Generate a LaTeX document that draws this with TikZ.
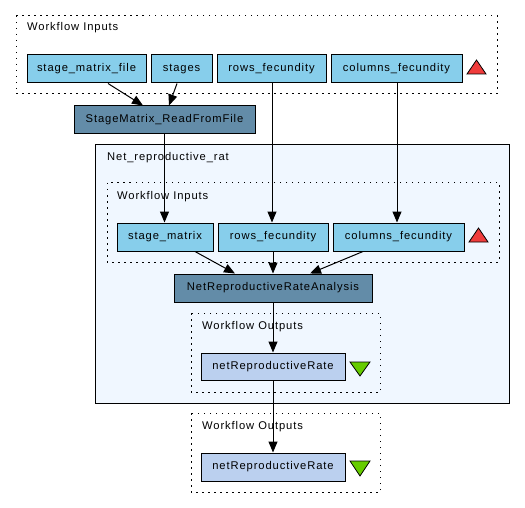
\documentclass[tikz,border=0pt]{standalone}
\usepackage{fontspec}
\setmainfont{Liberation Sans}[LetterSpace=8]
\usetikzlibrary{arrows.meta}
\definecolor{inpc}{RGB}{135,206,235}
\definecolor{procc}{RGB}{99,140,168}
\definecolor{outc}{RGB}{187,208,239}
\definecolor{netc}{RGB}{240,247,255}
\definecolor{redtri}{RGB}{240,60,60}
\definecolor{greentri}{RGB}{102,204,0}
\tikzset{
  box/.style={draw=black, line width=1pt, inner sep=0pt, minimum height=28pt, font=\fontsize{11.2}{13}\selectfont},
  inbox/.style={box, fill=inpc},
  procbox/.style={box, fill=procc},
  outbox/.style={box, fill=outc},
  grp/.style={draw=black, line width=1pt, dash pattern=on 1.5pt off 4.5pt},
  lbl/.style={anchor=west, inner sep=0pt, font=\fontsize{11.2}{13}\selectfont},
  conn/.style={draw=black, line width=1pt, -{Triangle[length=11pt,width=9pt]}},
}
\begin{document}
\begin{tikzpicture}[x=1pt,y=-1pt]
\useasboundingbox (0,0) rectangle (525,508);
% top workflow inputs
\draw[grp] (16,16) rectangle (497,94);
\node[lbl] (wi1) at (27,28) {Workflow Inputs};
\node[inbox, minimum width=119pt] (smf) at (86.5,69) {stage\_matrix\_file};
\node[inbox, minimum width=61pt] (stg) at (181.5,69) {stages};
\node[inbox, minimum width=109pt] (rf1) at (271.5,69) {rows\_fecundity};
\node[inbox, minimum width=131pt] (cf1) at (396.5,69) {columns\_fecundity};
\draw[fill=redtri, line width=0.8pt] (467,74) -- (486,74) -- (476.5,60) -- cycle;
% processor
\node[procbox, minimum width=181pt] (smr) at (164.5,120) {StageMatrix\_ReadFromFile};
% nested workflow
\draw[fill=netc, line width=1pt, draw=black] (95,145) rectangle (509,403);
\node[lbl] (netl) at (107,158) {Net\_reproductive\_rat};
\draw[grp] (107,183) rectangle (499,262);
\node[lbl] (wi2) at (117,197) {Workflow Inputs};
\node[inbox, minimum width=96pt] (sm) at (165,237) {stage\_matrix};
\node[inbox, minimum width=110pt] (rf2) at (273,237) {rows\_fecundity};
\node[inbox, minimum width=131pt] (cf2) at (398.5,237) {columns\_fecundity};
\draw[fill=redtri, line width=0.8pt] (469,242) -- (488,242) -- (478.5,228) -- cycle;
\node[procbox, minimum width=198pt] (nra) at (273,288) {NetReproductiveRateAnalysis};
\draw[grp] (191,313) rectangle (380,392);
\node[lbl] (wo1) at (202,327) {Workflow Outputs};
\node[outbox, minimum width=144pt, minimum height=27pt] (nr1) at (273,366.5) {netReproductiveRate};
\draw[fill=greentri, line width=0.8pt] (350,362) -- (370,362) -- (360,376) -- cycle;
% outer outputs
\draw[grp] (191,413) rectangle (380,492);
\node[lbl] (wo2) at (202,427) {Workflow Outputs};
\node[outbox, minimum width=144pt, minimum height=28pt] (nr2) at (273,467) {netReproductiveRate};
\draw[fill=greentri, line width=0.8pt] (350,461) -- (370,461) -- (360,476) -- cycle;
% connectors
\draw[conn] ([xshift=21.5pt]smf.south) -- ([xshift=-21.5pt]smr.north);
\draw[conn] ([xshift=-4.5pt]stg.south) -- ([xshift=4.5pt]smr.north);
\draw[conn] (smr.south) -- (smr.south |- sm.north);
\draw[conn] ([xshift=0.5pt]rf1.south) -- ([xshift=0.5pt]rf1.south |- rf2.north);
\draw[conn] ([xshift=0.5pt]cf1.south) -- ([xshift=0.5pt]cf1.south |- cf2.north);
\draw[conn] ([xshift=30pt]sm.south) -- ([xshift=-38pt]nra.north);
\draw[conn] (rf2.south) -- (nra.north);
\draw[conn] ([xshift=-35.5pt]cf2.south) -- ([xshift=37pt]nra.north);
\draw[conn] (nra.south) -- (nr1.north);
\draw[conn] (nr1.south) -- (nr2.north);
\end{tikzpicture}
\end{document}
